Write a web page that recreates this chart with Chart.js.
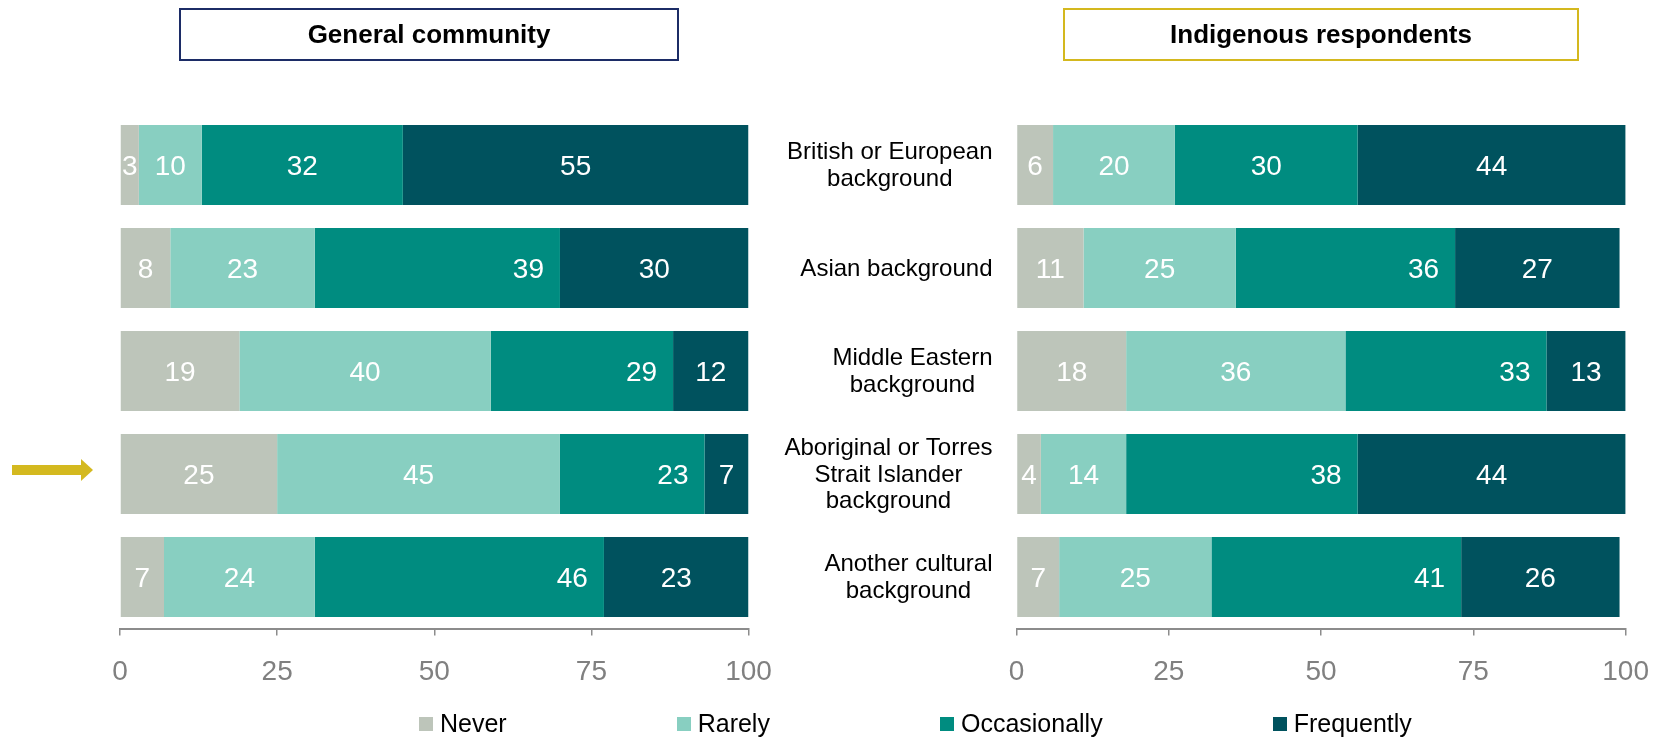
<!DOCTYPE html>
<html>
<head>
<meta charset="utf-8">
<title>Frequency by cultural background</title>
<script src="https://cdn.jsdelivr.net/npm/chart.js@4.4.1/dist/chart.umd.min.js"></script>
<style>
  html, body { margin: 0; padding: 0; background: #fff; }
  #wrap { position: relative; width: 1669px; height: 738px; overflow: hidden; font-family: 'Liberation Sans', Arial, sans-serif; }
  #wrap canvas { position: absolute; left: 0; top: 0; }
  .panelTitle { position: absolute; top: 8px; height: 53px; box-sizing: border-box; border: 2px solid;
    display: flex; align-items: center; justify-content: center; font-weight: bold; font-size: 26px; color: #000; }
  #titleGeneral { left: 179px; width: 500px; border-color: #1c2c66; }
  #titleIndig { left: 1063px; width: 516px; border-color: #d4b81e; }
  #legend { position: absolute; top: 709px; left: 419px; display: flex; gap: 170px; font-size: 25px; color: #000; }
  #legend span.item { display: flex; align-items: center; white-space: nowrap; }
  #legend span.box { display: inline-block; width: 14px; height: 14px; margin-right: 7px; }
</style>
</head>
<body>
<div id="wrap">
  <canvas id="generalChart" width="1669" height="738"></canvas>
  <canvas id="indigChart" width="1669" height="738"></canvas>
  <div class="panelTitle" id="titleGeneral">General community</div>
  <div class="panelTitle" id="titleIndig">Indigenous respondents</div>
  <div id="legend"></div>
</div>
<script>
// categorias (linhas das barras)
var categories = [
    ['British or European', 'background'],
    ['Asian background'],
    ['Middle Eastern', 'background'],
    ['Aboriginal or Torres', 'Strait Islander', 'background'],
    ['Another cultural', 'background']
];
var seriesNames = ['Never', 'Rarely', 'Occasionally', 'Frequently'];
var seriesColors = ['#bdc5ba', '#88cfc1', '#008c80', '#00525e'];

// General community (%)
var generalNever = [3, 8, 19, 25, 7];
var generalRarely = [10, 23, 40, 45, 24];
var generalOccasionally = [32, 39, 29, 23, 46];
var generalFrequently = [55, 30, 12, 7, 23];

// Indigenous respondents (%)
var indigNever = [6, 11, 18, 4, 7];
var indigRarely = [20, 25, 36, 14, 25];
var indigOccasionally = [30, 36, 33, 38, 41];
var indigFrequently = [44, 27, 13, 44, 26];

var xTicks = [0, 25, 50, 75, 100];

// onde fica o rótulo do Occasionally em cada linha
var occasionallyLabelPos = ['center', 'end', 'end', 'end', 'end'];

var fontFamily = "'Liberation Sans', Arial, sans-serif";
var axisGray = '#8c8c8c';

// rótulos brancos dentro das barras
var valueLabels = {
    id: 'valueLabels',
    afterDatasetsDraw: function (chart) {
        var ctx = chart.ctx;
        ctx.save();
        ctx.font = '28px ' + fontFamily;
        ctx.fillStyle = '#ffffff';
        ctx.textBaseline = 'middle';
        chart.data.datasets.forEach(function (ds, di) {
            var meta = chart.getDatasetMeta(di);
            meta.data.forEach(function (bar, i) {
                var pos = ds.labelPos ? ds.labelPos[i] : 'center';
                if (pos === 'end') {
                    ctx.textAlign = 'right';
                    ctx.fillText(ds.data[i], bar.x - 16, bar.y + 2);
                } else {
                    ctx.textAlign = 'center';
                    ctx.fillText(ds.data[i], (bar.x + bar.base) / 2, bar.y + 2);
                }
            });
        });
        ctx.restore();
    }
};

// nomes das categorias entre os dois painéis
var categoryLabels = {
    id: 'categoryLabels',
    afterDraw: function (chart) {
        var ctx = chart.ctx;
        var ys = chart.scales.y;
        ctx.save();
        ctx.font = '24px ' + fontFamily;
        ctx.fillStyle = '#000';
        ctx.textAlign = 'center';
        ctx.textBaseline = 'middle';
        categories.forEach(function (lines, i) {
            var yc = ys.getPixelForValue(i) + 1;
            var w = Math.max.apply(null, lines.map(function (l) { return ctx.measureText(l).width; }));
            var cx = chart.chartArea.left - 24 - w / 2;
            lines.forEach(function (l, j) {
                ctx.fillText(l, cx, yc + (j - (lines.length - 1) / 2) * 26.5);
            });
        });
        ctx.restore();
    }
};

// seta amarela apontando para a linha dos aborígenes
var rowArrow = {
    id: 'rowArrow',
    afterDraw: function (chart) {
        var ctx = chart.ctx;
        var yc = chart.scales.y.getPixelForValue(3) - 4;
        var tip = chart.chartArea.left - 27;
        ctx.save();
        ctx.fillStyle = '#d4b91f';
        ctx.fillRect(tip - 81, yc - 5, 70, 10);
        ctx.beginPath();
        ctx.moveTo(tip - 12, yc - 11);
        ctx.lineTo(tip, yc);
        ctx.lineTo(tip - 12, yc + 11);
        ctx.closePath();
        ctx.fill();
        ctx.restore();
    }
};

function buildDatasets(never, rarely, occasionally, frequently) {
    var values = [never, rarely, occasionally, frequently];
    return seriesNames.map(function (name, k) {
        return {
            label: name,
            data: values[k],
            backgroundColor: seriesColors[k],
            borderWidth: 0,
            barPercentage: 0.777,
            categoryPercentage: 1,
            labelPos: k === 2 ? occasionallyLabelPos : null
        };
    });
}

function buildConfig(datasets, padding, plugins) {
    return {
        type: 'bar',
        data: {
            labels: categories.map(function (c) { return c.join(' '); }),
            datasets: datasets
        },
        options: {
            indexAxis: 'y',
            responsive: false,
            animation: false,
            layout: { padding: padding },
            plugins: { legend: { display: false }, tooltip: { enabled: false } },
            scales: {
                y: { stacked: true, display: false },
                x: {
                    stacked: true,
                    min: 0,
                    max: 100,
                    grid: { display: true, drawOnChartArea: false, drawTicks: true, tickLength: 7, color: axisGray, lineWidth: 1.5 },
                    border: { display: true, color: axisGray, width: 2 },
                    ticks: { color: '#808080', font: { family: fontFamily, size: 28 }, padding: 20, maxRotation: 0, autoSkip: false },
                    afterBuildTicks: function (s) { s.ticks = xTicks.map(function (v) { return { value: v }; }); },
                    afterFit: function (s) { s.height = 60; }
                }
            }
        },
        plugins: plugins
    };
}

var general = new Chart(document.getElementById('generalChart'), buildConfig(
    buildDatasets(generalNever, generalRarely, generalOccasionally, generalFrequently),
    { left: 120, right: 920.5, top: 113.5, bottom: 49.5 },
    [valueLabels, rowArrow]
));

var indig = new Chart(document.getElementById('indigChart'), buildConfig(
    buildDatasets(indigNever, indigRarely, indigOccasionally, indigFrequently),
    { left: 1016.5, right: 38, top: 113.5, bottom: 49.5 },
    [valueLabels, categoryLabels]
));

// legenda em HTML embaixo dos dois painéis
var legend = document.getElementById('legend');
seriesNames.forEach(function (name, k) {
    var item = document.createElement('span');
    item.className = 'item';
    item.innerHTML = '<span class="box" style="background:' + seriesColors[k] + '"></span>' + name;
    legend.appendChild(item);
});
</script>
</body>
</html>
